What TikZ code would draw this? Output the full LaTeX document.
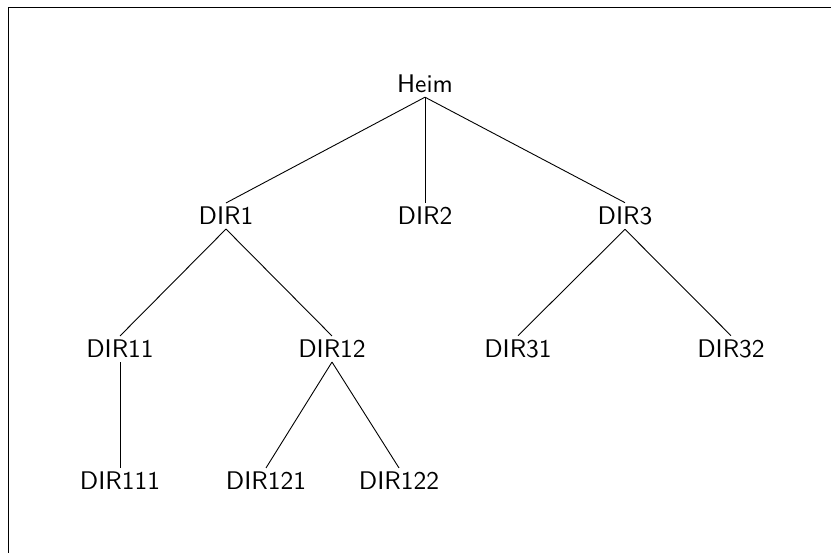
\documentclass[tikz,border=0pt]{standalone}
\usepackage{fontspec}
\newfontfamily\dirfont{lmsans10-regular.otf}
\begin{document}
\begin{tikzpicture}[x=1pt,y=-1pt,
  dirnode/.style={font=\dirfont\fontsize{25.5}{30}\selectfont, inner xsep=0pt, inner ysep=4pt, anchor=center},
  edge/.style={line width=0.9pt, black},
  frame/.style={line width=1.2pt, black}]
\useasboundingbox (0,0) rectangle (831,553);
\coordinate (fbl) at (8.7,553);
\coordinate (ftl) at (8.7,7.5);
\coordinate (ftr) at (831,7.5);
\draw[frame] (fbl) -- (ftl) -- (ftr);

\node[dirnode] (heim) at (425,84) {Heim};
\node[dirnode] (d1) at (226,216) {DIR1};
\node[dirnode] (d2) at (425,216) {DIR2};
\node[dirnode] (d3) at (625,216) {DIR3};
\node[dirnode] (d11) at (120,349) {DIR11};
\node[dirnode] (d12) at (332,349) {DIR12};
\node[dirnode] (d31) at (518,349) {DIR31};
\node[dirnode] (d32) at (731,349) {DIR32};
\node[dirnode] (d111) at (120,481) {DIR111};
\node[dirnode] (d121) at (266,481) {DIR121};
\node[dirnode] (d122) at (399,481) {DIR122};

\draw[edge] (heim.south) -- (d1.north);
\draw[edge] (heim.south) -- (d2.north);
\draw[edge] (heim.south) -- (d3.north);
\draw[edge] (d1.south) -- (d11.north);
\draw[edge] (d1.south) -- (d12.north);
\draw[edge] (d3.south) -- (d31.north);
\draw[edge] (d3.south) -- (d32.north);
\draw[edge] (d11.south) -- (d111.north);
\draw[edge] (d12.south) -- (d121.north);
\draw[edge] (d12.south) -- (d122.north);
\end{tikzpicture}
\end{document}
